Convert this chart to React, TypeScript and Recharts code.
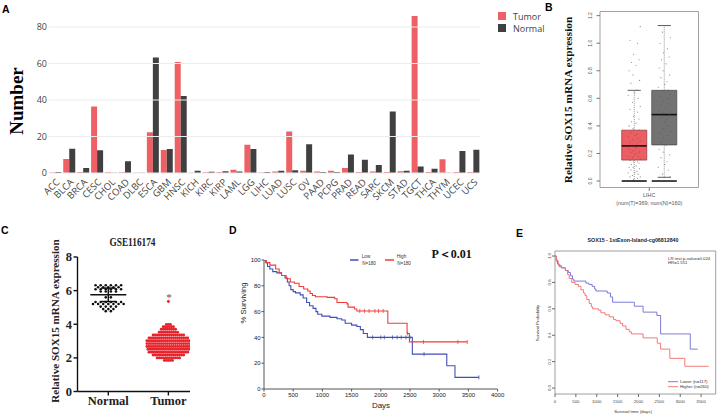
import React from 'react';
import {
  BarChart, Bar, XAxis, YAxis, ComposedChart, Line, Scatter,
  ReferenceArea, ReferenceLine,
} from 'recharts';

// ---------- Panel A data ----------
const cancers = ['ACC','BLCA','BRCA','CESC','CHOL','COAD','DLBC','ESCA','GBM','HNSC','KICH','KIRC','KIRP','LAML','LGG','LIHC','LUAD','LUSC','OV','PAAD','PCPG','PRAD','READ','SARC','SKCM','STAD','TGCT','THCA','THYM','UCEC','UCS'];
const tumorCounts = [0.3,7.7,0.5,36.5,0.4,0.4,0.2,22.3,12.6,60.8,0.2,0.4,0.5,1.8,15.5,0.3,0.8,22.7,1.3,0.8,1.2,2.7,0.6,0.8,0.6,0.9,86,0.6,7.6,0.6,0.6];
const normalCounts = [0.6,13.3,2.8,12.4,0.2,6.4,0.2,63.3,13.2,42.2,1.3,0.7,1.0,0.8,13.2,0.6,1.3,1.5,15.8,0.5,0.5,10.2,7.3,4.4,33.7,1.3,3.6,2.3,0.2,12.0,12.7];
const aTicks = [0,20,40,60,80];
const aSeries = ['Tumor','Normal'];

// ---------- Panel B data ----------
const bCategory = 'LIHC';
const bSampleCounts = [369, 160];
const bGroupPos = [1, 2];
const bQ1 = [0.152, 0.262];
const bMedian = [0.255, 0.482];
const bQ3 = [0.369, 0.658];
const bWhiskerLow = [0, 0.027];
const bWhiskerHigh = [0.658, 1.128];
const bTumorPoints = [0,0,0,0,0.01,0.02,0.03,0.03,0.04,0.05,0.06,0.06,0.07,0.08,0.09,0.1,0.1,0.11,0.12,0.13,0.14,0.14,0.15,0.16,0.17,0.18,0.18,0.19,0.2,0.21,0.21,0.22,0.23,0.24,0.25,0.25,0.26,0.27,0.28,0.29,0.3,0.31,0.32,0.33,0.34,0.35,0.37,0.38,0.4,0.42,0.43,0.45,0.47,0.5,0.52,0.54,0.57,0.6,0.62,0.64,0.66,0.71,0.73,0.77,0.8,0.84,0.86,0.88,0.92,1.0,1.02,1.12];
const bNormalPoints = [0,0,0.03,0.05,0.08,0.1,0.12,0.14,0.17,0.19,0.21,0.23,0.26,0.28,0.3,0.31,0.33,0.35,0.36,0.38,0.4,0.41,0.43,0.45,0.46,0.48,0.5,0.51,0.53,0.55,0.56,0.58,0.6,0.61,0.63,0.65,0.66,0.68,0.7,0.72,0.75,0.77,0.8,0.82,0.85,0.88,0.9,0.93,0.96,1.0,1.04,1.08,1.13];
const bTicks = [0,0.2,0.4,0.6,0.8,1.0,1.2];
const bJitter = [-0.17,0.06,-0.09,0.16,-0.02,0.11,-0.14,0.2,-0.06,0.13,-0.2,0.02,0.09,-0.11,0.18,-0.04];

// ---------- Panel C data ----------
const cGroups = ['Normal','Tumor'];
const cNormalRows: [number, number][] = [[6.32,6],[6.2,5],[6.08,6],[5.95,4],[5.6,2],[5.32,6],[5.2,7],[5.05,4],[4.9,3],[4.78,2]];
const cTumorRows: [number, number][] = [[5.35,1],[3.99,3],[3.85,6],[3.7,8],[3.53,10],[3.36,16],[3.19,20],[3.02,22],[2.85,22],[2.68,22],[2.51,21],[2.34,20],[2.17,16],[2.0,12],[1.85,5]];
const cNormalMean = 5.75;
const cNormalSD = 0.4;
const cTicks = [0,2,4,6,8];

// ---------- Panel D data ----------
const dLow: [number, number][] = [[0,100],[30,98],[60,95],[100,93],[150,91],[220,90],[300,88],[360,86],[400,83],[430,80],[460,77],[500,75.5],[540,74.5],[620,73],[670,70.5],[730,67],[780,64.5],[840,62.5],[890,60],[920,58],[990,56.5],[1130,55.5],[1250,54.5],[1330,53.5],[1390,51],[1500,49.5],[1590,48.5],[1650,46],[1700,43],[1770,40],[2540,27],[3130,18],[3270,9],[3680,9]];
const dHigh: [number, number][] = [[0,100],[40,98],[100,96],[200,93],[260,90],[300,88],[380,85.5],[450,83],[520,82],[600,79.5],[680,77.5],[750,76],[790,74],[830,72.5],[880,71.5],[1080,71],[1210,70],[1250,67],[1420,66],[1440,63.5],[1550,62],[1590,60.5],[2120,51],[2450,43],[2490,36.5],[3480,36.5]];
const dLowCensor: [number, number][] = [[1860,40],[2000,40],[2060,40],[2200,40],[2280,40],[2350,40],[2430,40],[2500,40],[2740,27],[3680,9]];
const dHighCensor: [number, number][] = [[1640,60.5],[1720,60.5],[1800,60.5],[1900,60.5],[1960,60.5],[2040,60.5],[2460,43],[2730,36.5],[3320,36.5],[3480,36.5]];
const dXTicks = [0,500,1000,1500,2000,2500,3000,3500,4000];
const dYTicks = [0,20,40,60,80,100];
const dGroups = ['Low','High'];
const dGroupN = [180, 180];
const dPText = 'P＜0.01';

// ---------- Panel E data ----------
const eLower: [number, number][] = [[0,1],[30,0.97],[60,0.94],[100,0.92],[160,0.91],[250,0.89],[320,0.875],[370,0.85],[420,0.825],[450,0.81],[740,0.795],[810,0.785],[890,0.77],[950,0.75],[980,0.735],[1250,0.72],[1330,0.69],[1380,0.65],[1900,0.62],[2110,0.575],[2440,0.55],[2530,0.41],[3240,0.295],[3420,0.295]];
const eHigher: [number, number][] = [[0,1],[30,0.96],[80,0.93],[150,0.91],[250,0.89],[300,0.86],[340,0.83],[400,0.8],[480,0.785],[560,0.77],[620,0.745],[680,0.72],[720,0.7],[760,0.67],[820,0.64],[870,0.615],[900,0.6],[1040,0.59],[1100,0.57],[1200,0.555],[1300,0.54],[1400,0.52],[1460,0.51],[1560,0.49],[1620,0.47],[1700,0.445],[1780,0.425],[1830,0.41],[2110,0.38],[2450,0.34],[2530,0.295],[2750,0.225],[3110,0.165],[3680,0.165]];
const eXTicks = [0,500,1000,1500,2000,2500,3000,3500];
const eYTicks = [0,0.2,0.4,0.6,0.8,1.0];
const eGroups = ['Lower','Higher'];
const eGroupN = [117, 260];
const eTitle = 'SOX15 - 1stExon-Island-cg06812840';
const eStats = ['LR test p-value=0.024', 'HR=1.551'];

// ---------- styles ----------
const tumorColor = '#EF6064';
const normalColor = '#404040';
const sans = 'Liberation Sans, Arial, sans-serif';
const serif = 'Liberation Serif, Times New Roman, serif';
const openSans = 'Open Sans, Liberation Sans, sans-serif';
const dBlue = '#3F4FB8';
const dRed = '#F23B3B';
const eBlue = '#6C6CD6';
const eRed = '#F66A6A';

const aData = cancers.map((name, i) => ({ name, tumor: tumorCounts[i], normal: normalCounts[i] }));

const bPoints = [
  ...bTumorPoints.map((v, i) => ({ x: bGroupPos[0] + bJitter[i % bJitter.length], y: v })),
  ...bNormalPoints.map((v, i) => ({ x: bGroupPos[1] + bJitter[(i + 5) % bJitter.length], y: v })),
];

const swarm = (rows: [number, number][], center: number, spacing: number) =>
  rows.flatMap(([v, n]) => Array.from({ length: n }, (_, k) => ({ x: center + (k - (n - 1) / 2) * spacing, y: v })));
const cNormalPts = swarm(cNormalRows, 1, 0.085);
const cTumorPts = swarm(cTumorRows, 2, 0.034);

const toXY = (arr: [number, number][]) => arr.map(([x, y]) => ({ x, y }));

const BYTick = (props: any) => {
  const { x, y, payload } = props;
  return (
    <text x={x} y={y} textAnchor="middle" transform={`rotate(-90 ${x} ${y})`} fontSize={5} fill="#555" fontFamily={sans}>
      {Number(payload.value).toFixed(1)}
    </text>
  );
};

const BXTick = (props: any) => {
  const { x, y } = props;
  return (
    <g>
      <text x={x} y={y + 5.5} textAnchor="middle" fontSize={5.4} fill="#555" fontFamily={sans}>{bCategory}</text>
      <text x={x} y={y + 14} textAnchor="middle" fontSize={5.4} fill="#555" fontFamily={sans}>
        {`(num(T)=${bSampleCounts[0]}; num(N)=${bSampleCounts[1]})`}
      </text>
    </g>
  );
};

const EYTick = (props: any) => {
  const { x, y, payload } = props;
  return (
    <text x={x} y={y} textAnchor="middle" transform={`rotate(-90 ${x} ${y})`} fontSize={4.3} fill="#444" fontFamily={sans}>
      {Number(payload.value).toFixed(1)}
    </text>
  );
};

const censorShape = (color: string) => (p: any) => (
  <line x1={p.cx} x2={p.cx} y1={p.cy - 2} y2={p.cy + 2} stroke={color} strokeWidth={0.8} />
);

const dot = (r: number, color: string, op = 1) => (p: any) => (
  <circle cx={p.cx} cy={p.cy} r={r} fill={color} fillOpacity={op} />
);

const Abs = ({ left, top, width, height, children }: any) => (
  <div style={{ position: 'absolute', left, top, width, height, overflow: 'hidden' }}>{children}</div>
);

// Small text layer placed at (left, top); children use page coordinates.
const TextLayer = ({ left, top, width, height, children }: any) => (
  <svg width={width} height={height} style={{ position: 'absolute', left, top, pointerEvents: 'none', overflow: 'hidden' }}>
    <g transform={`translate(${-left} ${-top})`}>{children}</g>
  </svg>
);

export default function App() {
  const bHalf = 0.417;
  const capHalf = 0.22;
  return (
    <div style={{ position: 'absolute', left: 0, top: 0, width: 717, height: 417, background: '#fff', overflow: 'hidden' }}>
      {/* Panel A */}
      <Abs left={0} top={0} width={717} height={230}>
        <BarChart width={717} height={230} data={aData} margin={{ top: 12.4, right: 236.5, bottom: 0, left: 0 }}
          barCategoryGap={0.8} barGap={0}>
          <XAxis dataKey="name" interval={0} height={57} tickSize={0} tickMargin={5} axisLine={false} tickLine={false}
            tick={{ angle: -45, textAnchor: 'end', verticalAnchor: 'middle', fontSize: 9.5, fill: '#444', fontFamily: openSans } as any} />
          <YAxis width={48.5} domain={[0, 88]} ticks={aTicks} allowDataOverflow axisLine={false} tickLine={false}
            tickSize={0} tickMargin={1.5} tick={{ fontSize: 9, fill: '#444', fontFamily: openSans }} />
          {aTicks.map((t) => (
            <ReferenceLine key={`g${t}`} y={t} stroke="#ececec" strokeWidth={1} />
          ))}
          <Bar dataKey="tumor" name={aSeries[0]} fill={tumorColor} isAnimationActive={false} />
          <Bar dataKey="normal" name={aSeries[1]} fill={normalColor} isAnimationActive={false} />
        </BarChart>
      </Abs>

      {/* Panel B */}
      <Abs left={540} top={0} width={177} height={215}>
        <ComposedChart width={177} height={215} margin={{ top: 11.5, right: 18.5, bottom: 0, left: 0 }}>
          <XAxis type="number" dataKey="x" domain={[-0.14, 3.14]} allowDataOverflow ticks={[1.5]} height={27.5}
            axisLine={false} tickLine={{ stroke: '#777' }} tickSize={3.5} tickMargin={0} tick={<BXTick />} />
          <YAxis type="number" dataKey="y" domain={[-0.047, 1.23]} allowDataOverflow ticks={bTicks} width={60}
            axisLine={false} tickLine={{ stroke: '#777' }} tickSize={3.5} tickMargin={4.5} tick={<BYTick />} />
          <ReferenceArea x1={-0.14} x2={3.14} y1={-0.047} y2={1.23} fill="none" stroke="#8a8a8a" strokeWidth={0.8} />
          {bGroupPos.map((c, i) => (
            <ReferenceLine key={`wl${i}`} segment={[{ x: c, y: bWhiskerLow[i] }, { x: c, y: bQ1[i] }]} stroke="#555" strokeDasharray="1 1" strokeWidth={0.6} />
          ))}
          {bGroupPos.map((c, i) => (
            <ReferenceLine key={`wh${i}`} segment={[{ x: c, y: bQ3[i] }, { x: c, y: bWhiskerHigh[i] }]} stroke="#555" strokeDasharray="1 1" strokeWidth={0.6} />
          ))}
          {bGroupPos.map((c, i) => (
            <ReferenceLine key={`ch${i}`} segment={[{ x: c - capHalf, y: bWhiskerHigh[i] }, { x: c + capHalf, y: bWhiskerHigh[i] }]} stroke="#333" strokeWidth={0.8} />
          ))}
          {bGroupPos.map((c, i) => (
            <ReferenceLine key={`cl${i}`} segment={[{ x: c - capHalf, y: bWhiskerLow[i] }, { x: c + capHalf, y: bWhiskerLow[i] }]} stroke="#333" strokeWidth={0.8} />
          ))}
          <ReferenceArea x1={bGroupPos[0] - bHalf} x2={bGroupPos[0] + bHalf} y1={bQ1[0]} y2={bQ3[0]} fill="#EE5D62" fillOpacity={1} stroke="#8a3a3c" strokeWidth={0.7} />
          <ReferenceArea x1={bGroupPos[1] - bHalf} x2={bGroupPos[1] + bHalf} y1={bQ1[1]} y2={bQ3[1]} fill="#737373" fillOpacity={1} stroke="#444" strokeWidth={0.7} />
          <Scatter data={bPoints} dataKey="y" isAnimationActive={false} shape={dot(0.55, '#555', 0.75)} />
          {bGroupPos.map((c, i) => (
            <ReferenceLine key={`md${i}`} segment={[{ x: c - bHalf, y: bMedian[i] }, { x: c + bHalf, y: bMedian[i] }]} stroke="#111" strokeWidth={1.6} />
          ))}
          {bGroupPos.map((c, i) => (
            <ReferenceLine key={`z${i}`} segment={[{ x: c - bHalf, y: 0 }, { x: c + bHalf, y: 0 }]} stroke="#333" strokeWidth={1.8} />
          ))}
        </ComposedChart>
      </Abs>

      {/* Panel C */}
      <Abs left={0} top={215} width={230} height={202}>
        <ComposedChart width={230} height={202} margin={{ top: 42, right: 40, bottom: 0, left: 0 }}>
          <XAxis type="number" dataKey="x" domain={[0.487, 2.36]} allowDataOverflow ticks={[1, 2]} interval={0}
            tickFormatter={(v: number) => cGroups[Math.round(v) - 1]} height={25.5}
            axisLine={{ stroke: '#111', strokeWidth: 1.4 }} tickLine={{ stroke: '#111', strokeWidth: 1.4 }} tickSize={4} tickMargin={1}
            tick={{ fontSize: 12.5, fontWeight: 'bold', fill: '#222', fontFamily: serif }} />
          <YAxis type="number" dataKey="y" domain={[0, 8]} allowDataOverflow ticks={cTicks} width={77.5}
            axisLine={{ stroke: '#111', strokeWidth: 1.4 }} tickLine={{ stroke: '#111', strokeWidth: 1.4 }} tickSize={4} tickMargin={1.5}
            tick={{ fontSize: 12.5, fontWeight: 'bold', fill: '#222', fontFamily: serif }} />
          <Scatter data={cNormalPts} dataKey="y" isAnimationActive={false} shape={dot(1.3, '#111')} />
          <Scatter data={cTumorPts} dataKey="y" isAnimationActive={false} shape={dot(1.45, '#E8232B')} />
          <ReferenceLine segment={[{ x: 0.7, y: cNormalMean }, { x: 1.3, y: cNormalMean }]} stroke="#111" strokeWidth={1.5} />
          <ReferenceLine segment={[{ x: 1, y: cNormalMean - cNormalSD }, { x: 1, y: cNormalMean + cNormalSD }]} stroke="#111" strokeWidth={1.5} />
          <ReferenceLine segment={[{ x: 0.88, y: cNormalMean + cNormalSD }, { x: 1.12, y: cNormalMean + cNormalSD }]} stroke="#111" strokeWidth={1.5} />
          <ReferenceLine segment={[{ x: 0.88, y: cNormalMean - cNormalSD }, { x: 1.12, y: cNormalMean - cNormalSD }]} stroke="#111" strokeWidth={1.5} />
        </ComposedChart>
      </Abs>

      {/* Panel D */}
      <Abs left={230} top={240} width={280} height={177}>
        <ComposedChart width={280} height={177} margin={{ top: 20, right: 12.4, bottom: 0, left: 0 }}>
          <XAxis type="number" dataKey="x" domain={[0, 4000]} allowDataOverflow ticks={dXTicks} interval={0} height={28}
            axisLine={{ stroke: '#555' }} tickLine={{ stroke: '#555' }} tickSize={2.5} tickMargin={1.5}
            tick={{ fontSize: 6, fill: '#222', fontFamily: sans }} />
          <YAxis type="number" dataKey="y" domain={[0, 100]} allowDataOverflow ticks={dYTicks} interval={0} width={34}
            axisLine={{ stroke: '#555' }} tickLine={{ stroke: '#555' }} tickSize={2.5} tickMargin={0.8}
            tick={{ fontSize: 6, fill: '#222', fontFamily: sans }} />
          <Line data={toXY(dLow)} dataKey="y" type="stepAfter" stroke={dBlue} strokeWidth={1.1} dot={false} isAnimationActive={false} />
          <Line data={toXY(dHigh)} dataKey="y" type="stepAfter" stroke={dRed} strokeWidth={1.1} dot={false} isAnimationActive={false} />
          <Scatter data={toXY(dLowCensor)} dataKey="y" isAnimationActive={false} shape={censorShape(dBlue)} />
          <Scatter data={toXY(dHighCensor)} dataKey="y" isAnimationActive={false} shape={censorShape(dRed)} />
        </ComposedChart>
      </Abs>

      {/* Panel E */}
      <Abs left={510} top={240} width={207} height={177}>
        <ComposedChart width={207} height={177} margin={{ top: 11, right: 1.3, bottom: 0, left: 0 }}>
          <XAxis type="number" dataKey="x" domain={[0, 3850]} allowDataOverflow ticks={eXTicks} interval={0} height={23}
            axisLine={false} tickLine={{ stroke: '#666' }} tickSize={3} tickMargin={3}
            tick={{ fontSize: 4.3, fill: '#444', fontFamily: sans }} />
          <YAxis type="number" dataKey="y" domain={[-0.045, 1.038]} allowDataOverflow ticks={eYTicks} interval={0} width={45}
            axisLine={false} tickLine={{ stroke: '#666' }} tickSize={3} tickMargin={0.5} tick={<EYTick />} />
          <ReferenceArea x1={0} x2={3850} y1={-0.045} y2={1.038} fill="none" stroke="#777" strokeWidth={0.7} />
          <Line data={toXY(eLower)} dataKey="y" type="stepAfter" stroke={eBlue} strokeWidth={0.9} dot={false} isAnimationActive={false} />
          <Line data={toXY(eHigher)} dataKey="y" type="stepAfter" stroke={eRed} strokeWidth={0.9} dot={false} isAnimationActive={false} />
        </ComposedChart>
      </Abs>

      {/* Panel A text */}
      <TextLayer left={0} top={0} width={30} height={230}>
        <text x={2} y={13} fontFamily={sans} fontWeight="bold" fontSize={10.5} fill="#000">A</text>
        <text x={16} y={101} textAnchor="middle" dominantBaseline="central" transform="rotate(-90 16 101)"
          fontFamily={serif} fontWeight="bold" fontSize={19} fill="#000">Number</text>
      </TextLayer>
      <TextLayer left={490} top={0} width={58} height={40}>
        <rect x={498} y={12} width={8} height={8} fill={tumorColor} />
        <rect x={498} y={24} width={8} height={8} fill={normalColor} />
        <text x={513} y={16} dominantBaseline="central" fontSize={9} fill="#444" fontFamily={openSans}>{aSeries[0]}</text>
        <text x={513} y={28} dominantBaseline="central" fontSize={9} fill="#444" fontFamily={openSans}>{aSeries[1]}</text>
      </TextLayer>

      {/* Panel B text */}
      <TextLayer left={542} top={0} width={36} height={215}>
        <text x={545} y={11} fontFamily={sans} fontWeight="bold" fontSize={10.5} fill="#000">B</text>
        <text x={568} y={100} textAnchor="middle" dominantBaseline="central" transform="rotate(-90 568 100)"
          fontFamily={serif} fontWeight="bold" fontSize={11.3} fill="#111">Relative SOX15 mRNA expression</text>
      </TextLayer>

      {/* Panel C text */}
      <TextLayer left={0} top={222} width={225} height={195}>
        <text x={1} y={234} fontFamily={sans} fontWeight="bold" fontSize={10.5} fill="#000">C</text>
        <text x={132.5} y={246} textAnchor="middle" fontFamily={serif} fontWeight="bold" fontSize={12} fill="#222"
          textLength={46} lengthAdjust="spacingAndGlyphs">GSE116174</text>
        <text x={55} y={321} textAnchor="middle" dominantBaseline="central" transform="rotate(-90 55 321)"
          fontFamily={serif} fontWeight="bold" fontSize={11.1} fill="#222">Relative SOX15 mRNA expression</text>
        <text x={169} y={301} textAnchor="middle" fontFamily={serif} fontSize={11} fill="#555">*</text>
      </TextLayer>

      {/* Panel D text */}
      <TextLayer left={226} top={222} width={284} height={195}>
        <text x={229} y={234} fontFamily={sans} fontWeight="bold" fontSize={10.5} fill="#000">D</text>
        <line x1={350} x2={358.5} y1={260} y2={260} stroke={dBlue} strokeWidth={1.5} />
        <line x1={385} x2={394} y1={260} y2={260} stroke={dRed} strokeWidth={1.5} />
        <g fontFamily={sans} fontSize={4.6} fill="#333" textAnchor="middle">
          <text x={366} y={258}>{dGroups[0]}</text>
          <text x={369} y={264.5}>{`N=${dGroupN[0]}`}</text>
          <text x={401.5} y={258}>{dGroups[1]}</text>
          <text x={404} y={264.5}>{`N=${dGroupN[1]}`}</text>
        </g>
        <text x={431.5} y={257.5} fontFamily={serif} fontWeight="bold" fontSize={12} fill="#111">{dPText}</text>
        <text x={381} y={408} textAnchor="middle" fontFamily={sans} fontSize={8} fill="#222">Days</text>
        <text x={243} y={303} textAnchor="middle" dominantBaseline="central" transform="rotate(-90 243 303)"
          fontFamily={sans} fontSize={7.8} fill="#222">% Surviving</text>
      </TextLayer>

      {/* Panel E text */}
      <TextLayer left={510} top={222} width={207} height={195}>
        <text x={516} y={237} fontFamily={sans} fontWeight="bold" fontSize={10.5} fill="#000">E</text>
        <text x={633} y={242} textAnchor="middle" fontFamily={sans} fontWeight="bold" fontSize={5.3} fill="#222">{eTitle}</text>
        <text x={668} y={259.5} fontFamily={sans} fontSize={4.3} fill="#333">{eStats[0]}</text>
        <text x={668} y={263.5} fontFamily={sans} fontSize={4.3} fill="#333">{eStats[1]}</text>
        <line x1={668} x2={678} y1={381.7} y2={381.7} stroke={eBlue} strokeWidth={0.9} />
        <line x1={668} x2={678} y1={386.7} y2={386.7} stroke={eRed} strokeWidth={0.9} />
        <text x={680} y={381.7} dominantBaseline="central" fontFamily={sans} fontSize={4.3} fill="#333">{`${eGroups[0]} (n=${eGroupN[0]})`}</text>
        <text x={680} y={386.7} dominantBaseline="central" fontFamily={sans} fontSize={4.3} fill="#333">{`${eGroups[1]} (n=${eGroupN[1]})`}</text>
        <text x={633} y={413} textAnchor="middle" fontFamily={sans} fontSize={4.3} fill="#333">Survival time (days)</text>
        <text x={537} y={323} textAnchor="middle" dominantBaseline="central" transform="rotate(-90 537 323)"
          fontFamily={sans} fontSize={4.3} fill="#333">Survival Probability</text>
      </TextLayer>
    </div>
  );
}
